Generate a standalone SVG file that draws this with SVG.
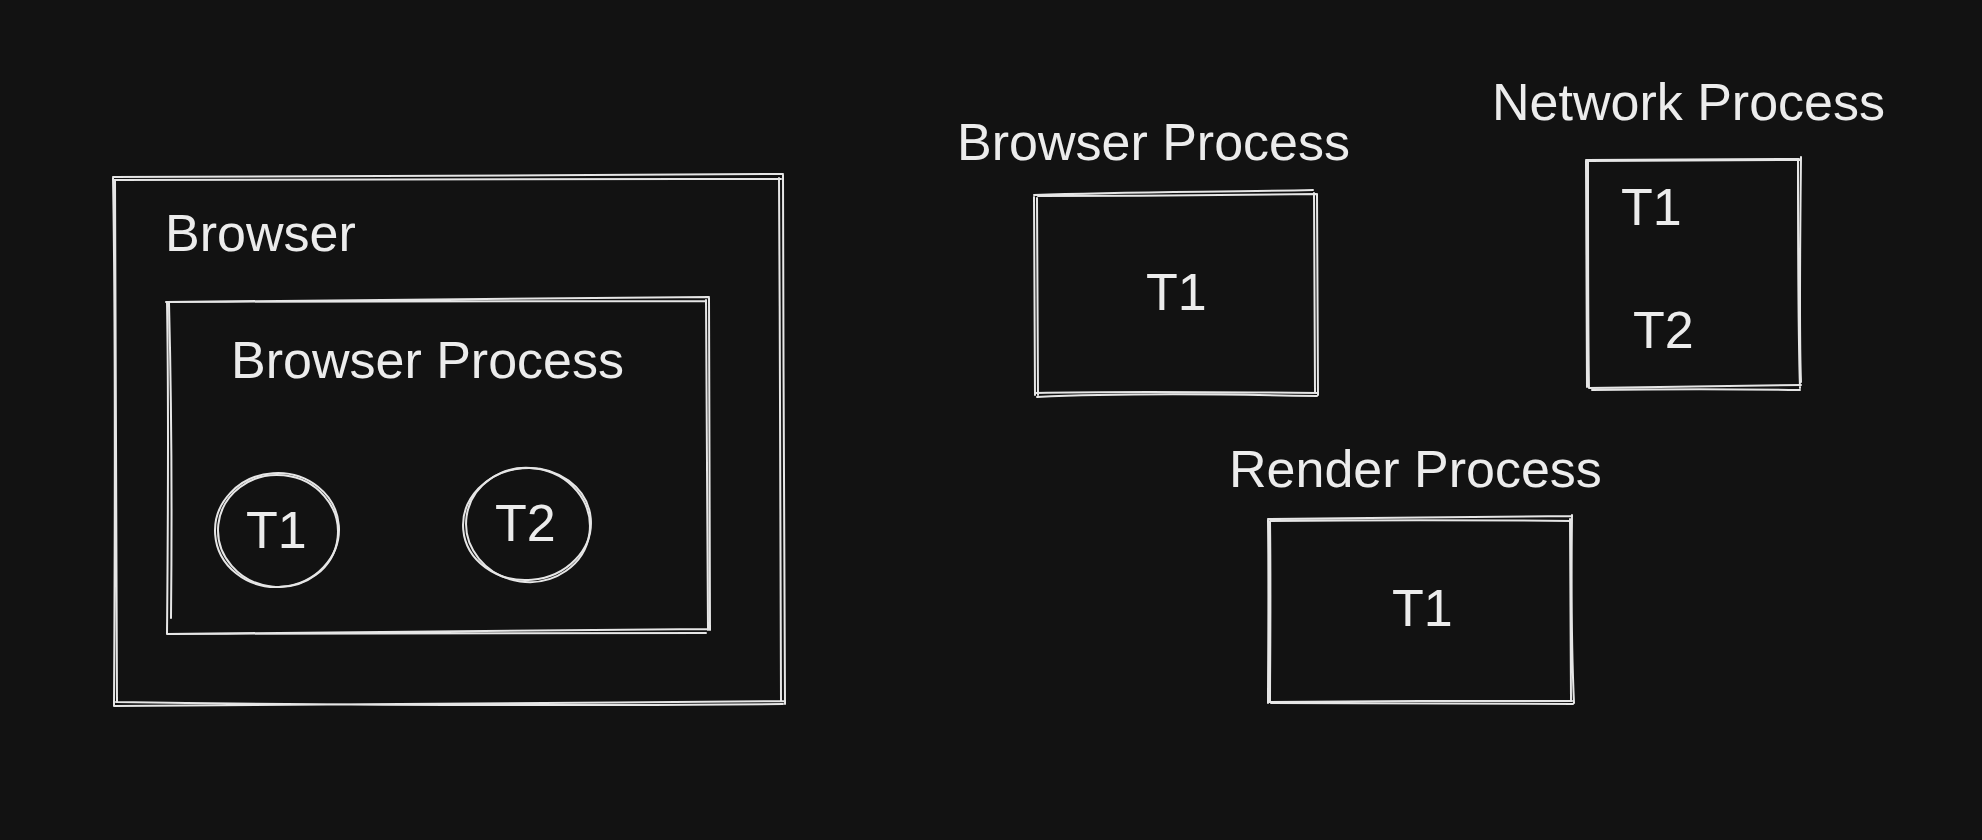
<svg xmlns="http://www.w3.org/2000/svg" width="1982" height="840" viewBox="0 0 1982 840">
<style>
.bg{fill:#121212}
.sk{fill:none;stroke:#e6e6e6;stroke-width:2;stroke-linecap:round;stroke-linejoin:round}
.lbl{font-family:"Liberation Sans",Arial,Helvetica,sans-serif;font-size:52px;fill:#ececec}
</style>
<rect class="bg" x="0" y="0" width="1982" height="840"/>
<g id="browser">
  <path class="sk" d="M113 177 C330 175 560 176 783 174 M114 180 C340 178 560 179 781 179 M783 175 C784 350 783 540 785 704 M779 178 C780 360 781 560 781 700 M785 701 C560 704 330 703 115 706 M783 704 C560 706 330 705 116 702 M114 706 C115 530 116 350 113 178 M117 702 C116 520 117 350 115 180"/>
  <text class="lbl" x="165" y="251">Browser</text>
</g>
<g id="browser-process-inner">
  <path class="sk" d="M166 302 C380 300 560 300 709 297 M168 302 C380 301 560 301 706 301 M706 300 C707 430 707 540 708 630 M709 298 C709 430 709 540 710 630 M709 629 C520 630 340 631 167 634 M706 633 C520 633 340 633 168 634 M167 634 C168 520 169 420 167 302 M171 618 C172 520 172 420 169 303"/>
  <text class="lbl" x="231" y="378">Browser Process</text>
</g>
<g id="t1-circle">
  <ellipse class="sk" cx="277" cy="530" rx="62" ry="57" transform="rotate(-4 277 530)"/>
  <ellipse class="sk" cx="278" cy="531" rx="60" ry="56" transform="rotate(6 278 531)"/>
  <text class="lbl" x="246" y="548">T1</text>
</g>
<g id="t2-circle">
  <ellipse class="sk" cx="527" cy="524" rx="64" ry="56" transform="rotate(-5 527 524)"/>
  <ellipse class="sk" cx="528" cy="525" rx="62" ry="57" transform="rotate(8 528 525)"/>
  <text class="lbl" x="495" y="541">T2</text>
</g>
<g id="browser-process">
  <text class="lbl" x="957" y="160">Browser Process</text>
  <path class="sk" d="M1034 195 C1130 192 1230 192 1313 190 M1038 196 C1130 196 1230 195 1316 194 M1317 194 C1318 270 1318 340 1318 395 M1314 193 C1315 270 1315 340 1315 392 M1318 393 C1220 392 1120 391 1036 393 M1317 396 C1220 394 1120 393 1037 397 M1034 197 C1035 280 1035 340 1035 395 M1037 198 C1037 280 1038 340 1038 395"/>
  <text class="lbl" x="1146" y="310">T1</text>
</g>
<g id="network-process">
  <text class="lbl" x="1492" y="120">Network Process</text>
  <path class="sk" d="M1586 160 C1660 159 1730 159 1799 159 M1589 161 C1660 160 1730 160 1800 160 M1801 157 C1800 250 1799 330 1801 382 M1798 160 C1798 250 1798 330 1800 388 M1801 385 C1740 386 1660 387 1589 388 M1800 390 C1740 389 1660 389 1592 390 M1586 161 C1587 250 1587 330 1587 387 M1588 161 C1588 250 1588 330 1589 388"/>
  <text class="lbl" x="1621" y="225">T1</text>
  <text class="lbl" x="1633" y="348">T2</text>
</g>
<g id="render-process">
  <text class="lbl" x="1229" y="487">Render Process</text>
  <path class="sk" d="M1268 519 C1370 518 1470 517 1572 516 M1270 521 C1370 520 1470 520 1571 521 M1572 515 C1571 600 1572 660 1574 703 M1570 519 C1570 600 1571 660 1571 700 M1572 701 C1470 701 1370 701 1268 702 M1573 704 C1470 703 1370 703 1271 703 M1268 520 C1269 600 1268 660 1268 703 M1270 521 C1271 600 1270 660 1270 702"/>
  <text class="lbl" x="1392" y="626">T1</text>
</g>
<g id="connectors"></g>
</svg>
